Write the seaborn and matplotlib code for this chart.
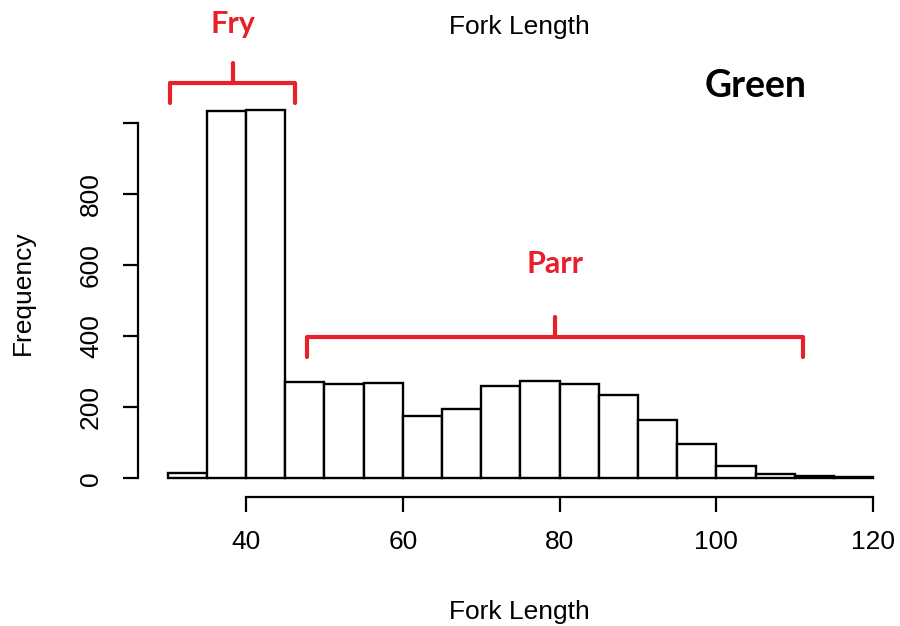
import matplotlib
matplotlib.use("Agg")
import matplotlib.pyplot as plt
import numpy as np
import pandas as pd
import seaborn as sns

# histogram of fork length (bin width 5), counts
bin_edges = [30, 35, 40, 45, 50, 55, 60, 65, 70, 75, 80, 85, 90, 95, 100, 105, 110, 115, 120]
counts = [15, 1032, 1035, 270, 264, 269, 174, 195, 260, 274, 265, 234, 165, 97, 35, 12, 7, 3]
x_ticks = [40, 60, 80, 100, 120]
y_ticks = [0, 200, 400, 600, 800, 1000]
y_tick_labels = ["0", "200", "400", "600", "800", ""]

# group brackets (start, end, label)
groups = [("Fry", 30.3, 46.3), ("Parr", 47.8, 111.1)]

df = pd.DataFrame({
    "mid": (np.array(bin_edges[:-1]) + np.array(bin_edges[1:])) / 2,
    "n": counts,
})

sns.set_style("white")
plt.rcParams["font.family"] = ["Liberation Sans", "DejaVu Sans"]
plt.rcParams["text.color"] = "black"

fig = plt.figure(figsize=(9, 6.26), dpi=100)
ax = fig.add_axes([0.153, 0.2061, 0.825, 0.6262])

sns.histplot(data=df, x="mid", weights="n", bins=bin_edges, ax=ax,
             color="white", edgecolor="black", linewidth=1.7, alpha=1)

ax.set_xlim(26.18, 120.9)
ax.set_ylim(-52.6, 1049.5)

# R-style detached axes
for s in ["top", "right"]:
    ax.spines[s].set_visible(False)
ax.spines["left"].set_bounds(0, 1000)
ax.spines["bottom"].set_bounds(40, 120)
for s in ["left", "bottom"]:
    ax.spines[s].set_linewidth(1.6)
    ax.spines[s].set_color("black")

ax.set_xticks(x_ticks)
ax.set_xticklabels([str(t) for t in x_ticks])
ax.set_yticks(y_ticks)
ax.set_yticklabels(y_tick_labels, rotation=90, va="center")
ax.tick_params(axis="both", direction="out", length=11, width=1.6,
               labelsize=19, colors="black", bottom=True, left=True)
ax.tick_params(axis="x", pad=12.5)
ax.tick_params(axis="y", pad=14)
ax.set_xlabel("")
ax.set_ylabel("")

fig.text(0.577, 0.957, "Fork Length", ha="center", va="center", fontsize=19,
         color="black")
fig.text(0.577, 0.022, "Fork Length", ha="center", va="center", fontsize=19,
         color="black")
fig.text(0.025, 0.532, "Frequency", ha="center", va="center", fontsize=19,
         rotation=90, color="black")
fig.text(0.84, 0.862, "Green", ha="center", va="center", fontsize=27,
         fontweight="bold", family=["Lato", "DejaVu Sans"], color="black")

# red brackets over the two groups
red = "#E8202A"
label_y = {"Fry": 1278, "Parr": 602}
bar_y = {"Fry": 1111, "Parr": 398}
for name, x0, x1 in groups:
    yb = bar_y[name]
    xm = (x0 + x1) / 2
    ax.plot([x0, x0, x1, x1], [yb - 56, yb, yb, yb - 56], color=red, lw=3,
            clip_on=False, solid_joinstyle="round", solid_capstyle="round")
    ax.plot([xm, xm], [yb, yb + 56], color=red, lw=3, clip_on=False,
            solid_capstyle="round")
    ax.text(xm, label_y[name], name, ha="center", va="center", color=red,
            fontsize=22, fontweight="bold", family=["Lato", "DejaVu Sans"],
            clip_on=False)

fig.savefig("out.png", dpi=100, facecolor="white")
